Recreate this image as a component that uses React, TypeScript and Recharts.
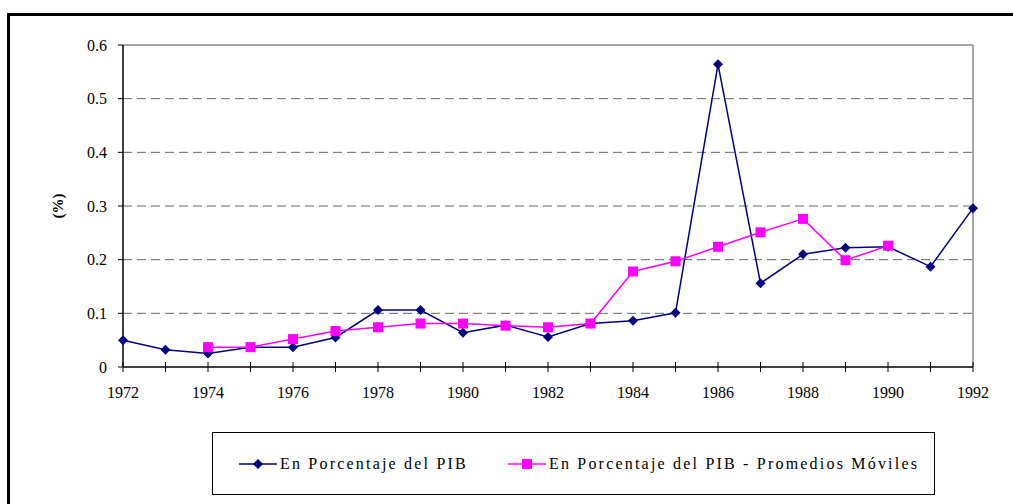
import { CartesianGrid, Line, LineChart, ReferenceLine, XAxis, YAxis } from 'recharts';

const YEARS = [
  1972, 1973, 1974, 1975, 1976, 1977, 1978, 1979, 1980, 1981, 1982,
  1983, 1984, 1985, 1986, 1987, 1988, 1989, 1990, 1991, 1992,
];

// En Porcentaje del PIB
const PIB = [
  0.05, 0.032, 0.025, 0.037, 0.037, 0.055, 0.106, 0.106, 0.064, 0.078, 0.056,
  0.081, 0.086, 0.101, 0.564, 0.156, 0.21, 0.222, 0.224, 0.187, 0.296,
];

// Promedios móviles (sin dato en 1972-73 y 1991-92)
const PROMEDIOS: (number | null)[] = [
  null, null, 0.037, 0.037, 0.052, 0.067, 0.074, 0.081, 0.081, 0.077, 0.074,
  0.081, 0.178, 0.197, 0.224, 0.251, 0.276, 0.199, 0.226, null, null,
];

const Y_TICKS = [0, 0.1, 0.2, 0.3, 0.4, 0.5, 0.6];

const NAVY = '#000080';
const MAGENTA = '#FF00FF';
const FONT = '"Liberation Serif", "Times New Roman", "DejaVu Serif", serif';

const rows = YEARS.map((year, i) => ({
  year,
  pib: PIB[i],
  prom: PROMEDIOS[i],
}));

function Diamond(props: any) {
  const { cx, cy, key } = props;
  if (cx == null || cy == null) return <g key={key} />;
  const r = 5;
  return (
    <polygon
      key={key}
      points={`${cx},${cy - r} ${cx + r},${cy} ${cx},${cy + r} ${cx - r},${cy}`}
      fill={NAVY}
    />
  );
}

function Square(props: any) {
  const { cx, cy, key, payload } = props;
  if (cx == null || cy == null || payload?.prom == null) return <g key={key} />;
  return <rect key={key} x={cx - 5} y={cy - 5} width={10} height={10} fill={MAGENTA} />;
}

function YearTick(props: any) {
  const { x, y, payload } = props;
  const year = payload.value as number;
  return (
    <g>
      <line x1={x} x2={x} y1={y - 5} y2={y + 5} stroke="#000" strokeWidth={1} />
      {year % 2 === 0 && (
        <text x={x} y={y + 31} textAnchor="middle" fontSize={16} fontFamily={FONT} fill="#000">
          {year}
        </text>
      )}
    </g>
  );
}

function LegendSwatch({ color, square }: { color: string; square?: boolean }) {
  return (
    <svg width={38} height={12} style={{ display: 'block' }}>
      <line x1={0} x2={38} y1={6} y2={6} stroke={color} strokeWidth={1.5} />
      {square ? (
        <rect x={14} y={1} width={10} height={10} fill={color} />
      ) : (
        <polygon points="19,1 24,6 19,11 14,6" fill={color} />
      )}
    </svg>
  );
}

export default function App() {
  return (
    <div
      style={{
        position: 'absolute',
        left: 0,
        top: 0,
        width: 1013,
        height: 504,
        overflow: 'hidden',
        background: '#fff',
      }}
    >
      <div
        style={{
          position: 'absolute',
          left: 7,
          top: 13,
          width: 1100,
          height: 600,
          border: '3px solid #000',
        }}
      />
      <div style={{ position: 'absolute', left: 0, top: 0 }}>
        <LineChart
          width={1013}
          height={504}
          data={rows}
          margin={{ top: 45, right: 40, left: 0, bottom: 107 }}
        >
          <CartesianGrid
            vertical={false}
            stroke="#666"
            strokeDasharray="9 5"
            horizontalValues={[0.1, 0.2, 0.3, 0.4, 0.5]}
          />
          <ReferenceLine y={0.6} stroke="#888" strokeWidth={1.5} />
          <ReferenceLine x={1992} stroke="#888" strokeWidth={1.5} />
          <XAxis
            dataKey="year"
            type="number"
            domain={[1972, 1992]}
            ticks={YEARS}
            interval={0}
            height={30}
            tickLine={false}
            tickSize={0}
            tickMargin={0}
            axisLine={{ stroke: '#000', strokeWidth: 1.5 }}
            tick={<YearTick />}
          />
          <YAxis
            type="number"
            domain={[0, 0.6]}
            ticks={Y_TICKS}
            width={123}
            interval={0}
            tickSize={5}
            tickMargin={11}
            tickFormatter={(v: number) => String(v)}
            tickLine={{ stroke: '#000' }}
            axisLine={{ stroke: '#000', strokeWidth: 1.5 }}
            tick={{ fontSize: 16, fontFamily: FONT, fill: '#000' }}
            label={{
              content: ({ viewBox }: any) => {
                const cx = viewBox.x + 58;
                const cy = viewBox.y + viewBox.height / 2;
                return (
                  <text
                    x={cx}
                    y={cy}
                    transform={`rotate(-90, ${cx}, ${cy})`}
                    textAnchor="middle"
                    dominantBaseline="central"
                    fontSize={15}
                    fontWeight="bold"
                    fontFamily={FONT}
                    fill="#000"
                  >
                    (%)
                  </text>
                );
              },
            }}
          />
          <Line
            dataKey="pib"
            stroke={NAVY}
            strokeWidth={1.5}
            dot={Diamond}
            activeDot={false}
            isAnimationActive={false}
          />
          <Line
            dataKey="prom"
            stroke={MAGENTA}
            strokeWidth={1.5}
            dot={Square}
            activeDot={false}
            connectNulls={false}
            isAnimationActive={false}
          />
        </LineChart>
      </div>
      <div
        style={{
          position: 'absolute',
          left: 212,
          top: 432,
          width: 723,
          height: 63,
          boxSizing: 'border-box',
          border: '1px solid #000',
          display: 'flex',
          alignItems: 'center',
          fontFamily: FONT,
          fontSize: 16,
          letterSpacing: 2.2,
          color: '#000',
        }}
      >
        <div style={{ display: 'flex', alignItems: 'center', marginLeft: 26 }}>
          <LegendSwatch color={NAVY} />
          <span style={{ marginLeft: 3 }}>En Porcentaje del PIB</span>
        </div>
        <div style={{ display: 'flex', alignItems: 'center', marginLeft: 40 }}>
          <LegendSwatch color={MAGENTA} square />
          <span style={{ marginLeft: 3 }}>En Porcentaje del PIB - Promedios Móviles</span>
        </div>
      </div>
    </div>
  );
}
